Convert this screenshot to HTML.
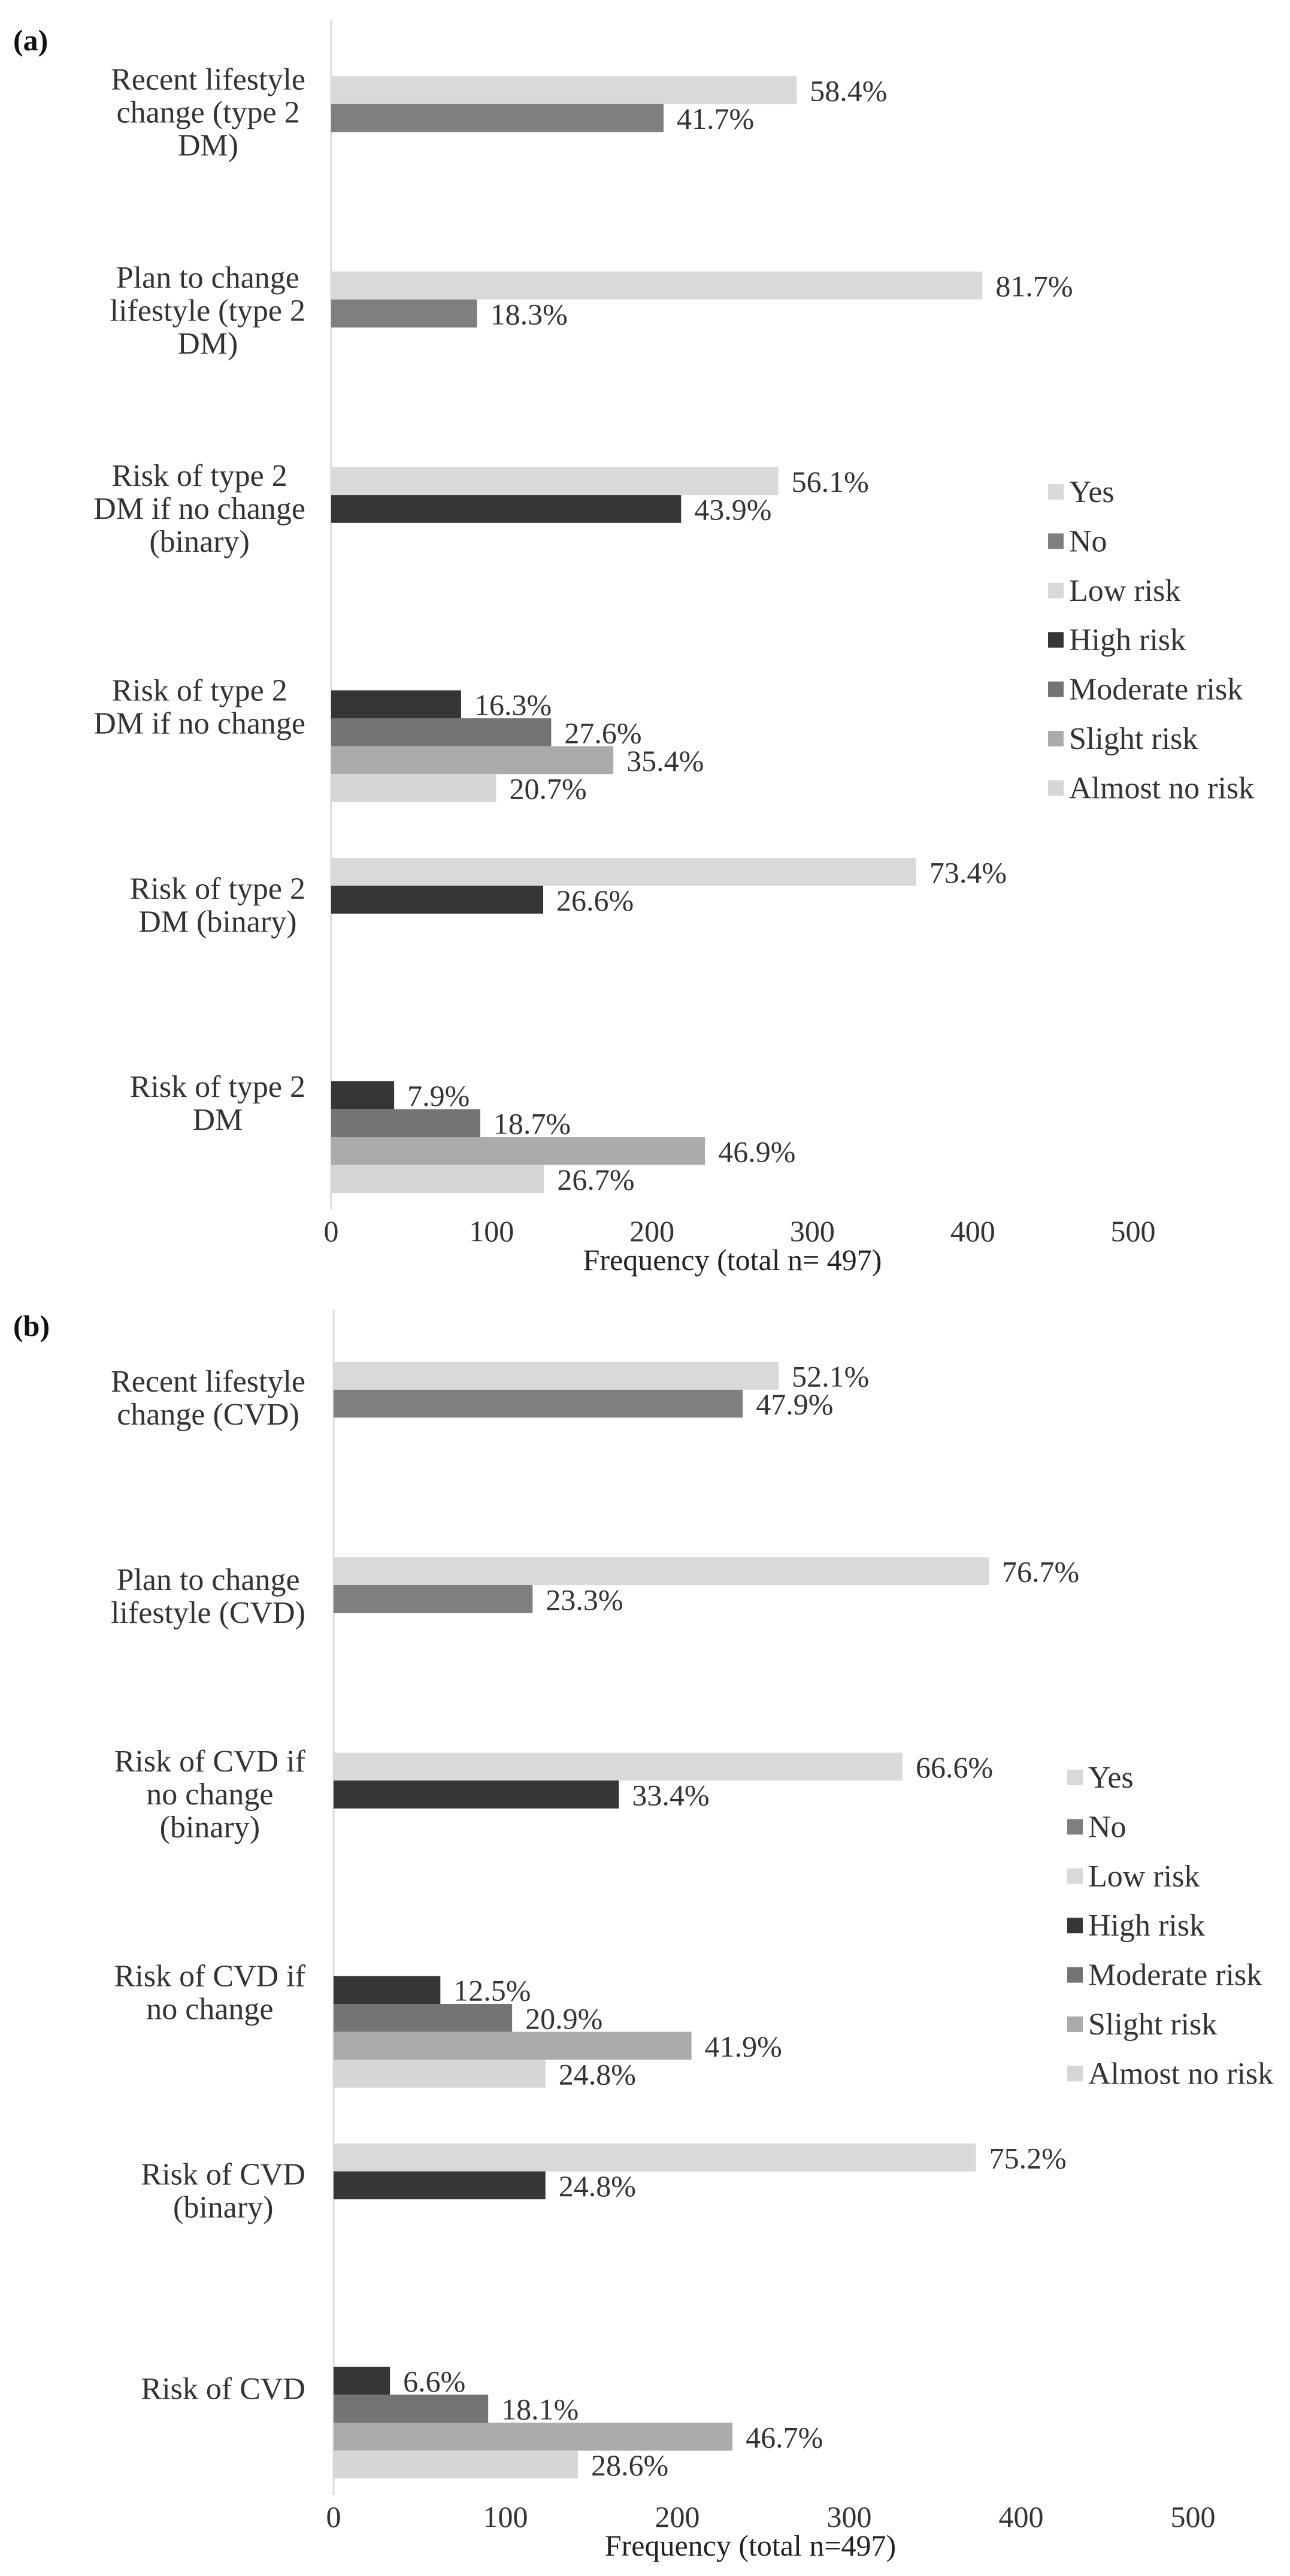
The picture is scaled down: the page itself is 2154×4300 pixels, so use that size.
<!DOCTYPE html>
<html><head><meta charset="utf-8"><style>
html,body{margin:0;padding:0;background:#fff;}
svg{display:block;font-family:"Liberation Serif",serif;}
</style></head><body>
<svg id="chart" width="2154" height="4300" viewBox="0 0 2154 4300" xmlns="http://www.w3.org/2000/svg"></svg>
<script>
const TOTAL_N = 497;
const seriesNames = ["Yes","No","Low risk","High risk","Moderate risk","Slight risk","Almost no risk"];
const seriesColors = ["#d9d9d9","#7f7f7f","#d9d9d9","#363636","#747474","#ababab","#d6d6d6"];
const xTicks = [0,100,200,300,400,500];

const catLabelsA = [["Recent lifestyle","change (type 2","DM)"],["Plan to change","lifestyle (type 2","DM)"],["Risk of type 2","DM if no change","(binary)"],["Risk of type 2","DM if no change"],["Risk of type 2","DM (binary)"],["Risk of type 2","DM"]];
const catSeriesA = [[0,1],[0,1],[2,3],[3,4,5,6],[2,3],[3,4,5,6]];
const catPctA = [[58.4,41.7],[81.7,18.3],[56.1,43.9],[16.3,27.6,35.4,20.7],[73.4,26.6],[7.9,18.7,46.9,26.7]];

const catLabelsB = [["Recent lifestyle","change (CVD)"],["Plan to change","lifestyle (CVD)"],["Risk of CVD if","no change","(binary)"],["Risk of CVD if","no change"],["Risk of CVD","(binary)"],["Risk of CVD"]];
const catSeriesB = [[0,1],[0,1],[2,3],[3,4,5,6],[2,3],[3,4,5,6]];
const catPctB = [[52.1,47.9],[76.7,23.3],[66.6,33.4],[12.5,20.9,41.9,24.8],[75.2,24.8],[6.6,18.1,46.7,28.6]];

// slot index where each category's cluster begins (category axis in bar-slot units)
const catStartSlot = [2,9,16,24,30,38];

const NS="http://www.w3.org/2000/svg";
const svg=document.getElementById("chart");
function mk(tag,attrs,parent){const e=document.createElementNS(NS,tag);for(const k in attrs)e.setAttribute(k,attrs[k]);(parent||svg).appendChild(e);return e;}

function drawPanel(p){
  const g=mk("g",{});
  
  
  const x=v=>p.x0+v*p.k;
  const slotH=46.6, slotTop=p.yOff+34, nSlots=42.6;
  const ys=s=>slotTop+s*slotH;
  const band=nSlots/6;
  // panel letter
  const pl=mk("text",{x:22,y:p.yOff+84,"font-size":50,"font-weight":"bold",fill:"#111"},g);
  pl.textContent=p.letter;
  
  
  // axis
  const ax=mk("line",{x1:x(0),x2:x(0),y1:p.axTop,y2:p.axBot,stroke:"#d9d9d9","stroke-width":3},g);
  
  
  xTicks.forEach(t=>{
    const tl=mk("text",{x:x(t),y:p.yOff+2072,"font-size":50,"text-anchor":"middle",fill:"#333"},g);
    tl.textContent=t;
    
    
  });
  const xt=mk("text",{x:p.titleX,y:p.yOff+2120,"font-size":50,"text-anchor":"middle",fill:"#222"},g);
  xt.textContent=p.title;
  
  
  // bars
  p.labels.forEach((lines,i)=>{
    p.series[i].forEach((s,j)=>{
      const pct=p.pct[i][j];
      const v=pct*TOTAL_N/100;
      const top=ys(catStartSlot[i]+j);
      const r=mk("rect",{x:x(0),y:top,width:x(v)-x(0),height:slotH,fill:seriesColors[s]},g);
      
      
      const vl=mk("text",{x:x(v)+22,y:top+slotH/2+18,"font-size":50,fill:"#333"},g);
      vl.textContent=pct.toFixed(1)+"%";
      
      
    });
    // category label block
    const cy=slotTop+(i+0.5)*band*slotH-12;
    const n=lines.length, lh=55;
    const tg=mk("g",{},g);
    
    
    const ts=lines.map((ln,k)=>{
      const t=mk("text",{x:0,y:cy+(k-(n-1)/2)*lh+17,"font-size":52,"text-anchor":"middle",fill:"#333"},tg);
      t.textContent=ln;return t;});
    let w=0;ts.forEach(t=>{w=Math.max(w,t.getComputedTextLength());});
    ts.forEach(t=>t.setAttribute("x",510-w/2));
  });
  // legend
  seriesNames.forEach((nm,i)=>{
    const cy=p.yOff+821+i*82.4;
    const sq=mk("rect",{x:p.legX,y:cy-13,width:26,height:26,fill:seriesColors[i]},g);
    
    
    const lt=mk("text",{x:p.legX+35,y:cy+17,"font-size":52,fill:"#333"},g);
    lt.textContent=nm;
    
    
  });
}
drawPanel({name:"panel-a-chart",letter:"(a)",yOff:0,x0:553,k:2.678,axTop:34,axBot:2019,titleX:1223,title:"Frequency (total n= 497)",legX:1750,labels:catLabelsA,series:catSeriesA,pct:catPctA});
drawPanel({name:"panel-b-chart",letter:"(b)",yOff:2146,x0:557,k:2.87,axTop:2187,axBot:4165,titleX:1253,title:"Frequency (total n=497)",legX:1782,labels:catLabelsB,series:catSeriesB,pct:catPctB});
</script>
</body></html>
